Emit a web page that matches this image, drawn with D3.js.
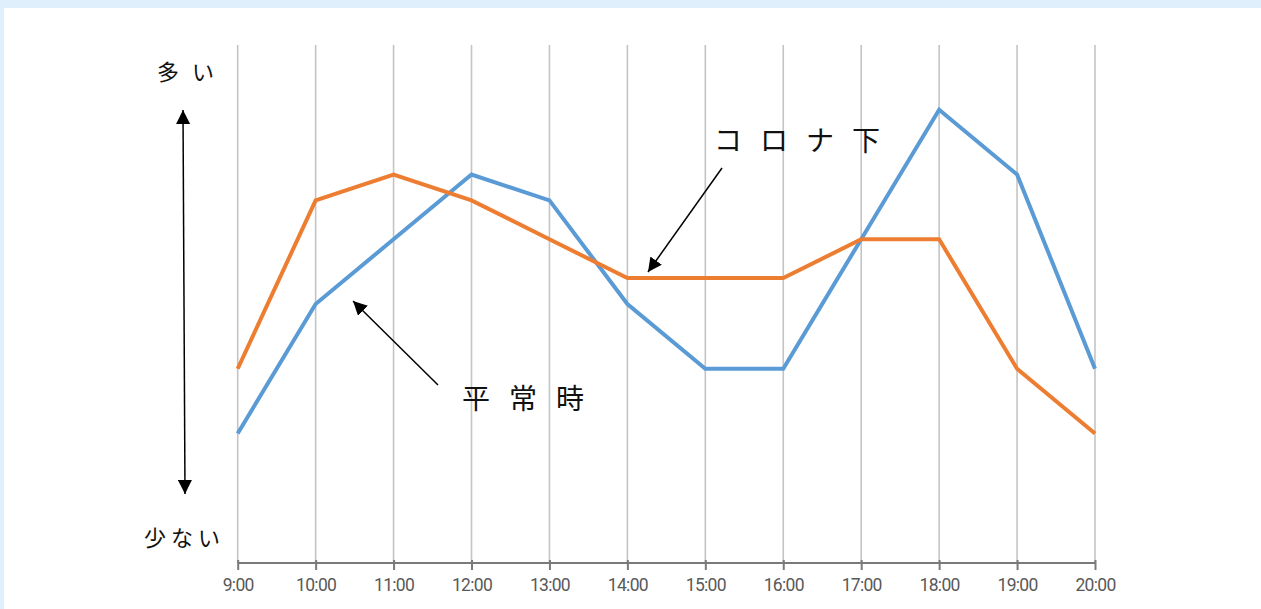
<!DOCTYPE html>
<html>
<head>
<meta charset="utf-8">
<script src="https://cdn.jsdelivr.net/npm/d3@7"></script>
<style>
  html, body { margin: 0; padding: 0; background: #fff; }
  svg { display: block; }
</style>
</head>
<body>
<svg id="chart" width="1261" height="609"></svg>
<script>
// Hourly time slots
const hours = ["9:00", "10:00", "11:00", "12:00", "13:00", "14:00", "15:00", "16:00", "17:00", "18:00", "19:00", "20:00"];
// Relative crowd level, normal times (平常時)
const normalLevels = [4, 8, 10, 12, 11.2, 8, 6, 6, 10, 14, 12, 6];
// Relative crowd level, under COVID (コロナ下)
const coronaLevels = [6, 11.2, 12, 11.2, 10, 8.8, 8.8, 8.8, 10, 10, 6, 4];
const levelRange = [0, 16];

const svg = d3.select("#chart");
const W = 1261, H = 609;

// page frame
svg.append("rect").attr("width", W).attr("height", H).attr("fill", "#ffffff");
svg.append("rect").attr("x", 0).attr("y", 0).attr("width", W).attr("height", 8).attr("fill", "#dff0fc");
svg.append("rect").attr("x", 0).attr("y", 0).attr("width", 4).attr("height", H).attr("fill", "#dff0fc");

const x = d3.scalePoint().domain(hours).range([237.7, 1095]);
const y = d3.scaleLinear().domain(levelRange).range([563, 45]);

// vertical gridlines
svg.append("g").selectAll("line").data(hours).join("line")
  .attr("x1", d => x(d)).attr("x2", d => x(d))
  .attr("y1", y(levelRange[1])).attr("y2", y(levelRange[0]))
  .attr("stroke", "#c4c4c4").attr("stroke-width", 1.6);

// x axis
const xAxis = d3.axisBottom(x).tickSize(7).tickPadding(9);
const gx = svg.append("g").attr("transform", `translate(0,${y(levelRange[0])})`).call(xAxis);
gx.select(".domain").attr("stroke", "#7a7a7a").attr("stroke-width", 2)
  .attr("d", `M${x(hours[0])},0H${x(hours[hours.length - 1])}`);
gx.selectAll(".tick line").attr("stroke", "#7a7a7a").attr("stroke-width", 2).attr("y1", -3);
gx.selectAll(".tick text")
  .attr("fill", "#595959")
  .style("font-family", "Roboto, 'Liberation Sans', sans-serif")
  .style("font-size", "17.5px")
  .style("letter-spacing", "-0.7px");

// series lines
const line = d3.line().x((d, i) => x(hours[i])).y(d => y(d));
svg.append("path").datum(normalLevels)
  .attr("d", line).attr("fill", "none")
  .attr("stroke", "#5b9bd5").attr("stroke-width", 4).attr("stroke-linejoin", "miter");
svg.append("path").datum(coronaLevels)
  .attr("d", line).attr("fill", "none")
  .attr("stroke", "#ed7d31").attr("stroke-width", 4).attr("stroke-linejoin", "miter");

// arrow marker
const defs = svg.append("defs");
defs.append("marker")
  .attr("id", "head").attr("viewBox", "0 0 10 10")
  .attr("refX", 10).attr("refY", 5)
  .attr("markerWidth", 14).attr("markerHeight", 14)
  .attr("markerUnits", "userSpaceOnUse")
  .attr("orient", "auto-start-reverse")
  .append("path").attr("d", "M0,0L10,5L0,10Z").attr("fill", "#000");

function arrow(x1, y1, x2, y2, both) {
  const l = svg.append("line")
    .attr("x1", x1).attr("y1", y1).attr("x2", x2).attr("y2", y2)
    .attr("stroke", "#000").attr("stroke-width", 1.5)
    .attr("marker-end", "url(#head)");
  if (both) l.attr("marker-start", "url(#head)");
}

// vertical scale arrow (many ↔ few)
arrow(183, 110, 185, 494, true);
// annotation arrows
arrow(438, 385, 353, 301, false);
arrow(722, 168, 648, 272, false);

// labels
const jp = "'Noto Sans CJK JP', 'Noto Sans CJK SC', sans-serif";
function label(txt, lx, ly, size, spacing) {
  svg.append("text")
    .attr("x", lx).attr("y", ly)
    .attr("fill", "#111")
    .style("font-family", jp)
    .style("font-size", size + "px")
    .style("letter-spacing", spacing + "px")
    .text(txt);
}
label("多い", 157, 80, 22, 13);
label("少ない", 144, 546, 22, 5);
label("コロナ下", 714, 151, 28, 18);
label("平常時", 462, 409, 28, 19);
</script>
</body>
</html>
